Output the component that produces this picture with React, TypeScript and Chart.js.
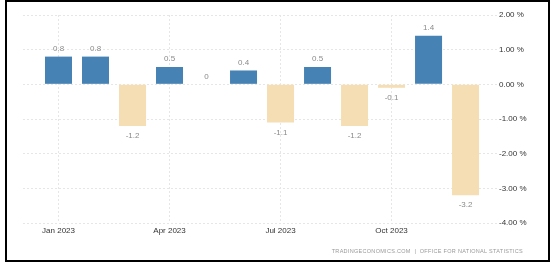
import React, { useEffect, useRef } from "react";
import { Chart, registerables } from "chart.js";

Chart.register(...registerables);

const months = [
  "Jan 2023", "Feb 2023", "Mar 2023", "Apr 2023", "May 2023", "Jun 2023",
  "Jul 2023", "Aug 2023", "Sep 2023", "Oct 2023", "Nov 2023", "Dec 2023",
];
const values = [0.8, 0.8, -1.2, 0.5, 0, 0.4, -1.1, 0.5, -1.2, -0.1, 1.4, -3.2];
const xTickIndices = [0, 3, 6, 9];
const yTicks = [2, 1, 0, -1, -2, -3, -4];
const sourceText = "TRADINGECONOMICS.COM  |  OFFICE FOR NATIONAL STATISTICS";

const POS = "#4682b4";
const NEG = "#f5deb3";
const FONT = "'Liberation Sans', Arial, sans-serif";

const labelPlugin = {
  id: "valueLabels",
  afterDatasetsDraw(chart: any) {
    const ctx = chart.ctx;
    const meta = chart.getDatasetMeta(0);
    ctx.save();
    ctx.font = `8px ${FONT}`;
    ctx.fillStyle = "#8a8a8a";
    ctx.textAlign = "center";
    ctx.textBaseline = "middle";
    meta.data.forEach((el: any, i: number) => {
      const v = values[i];
      const y = v >= 0 ? el.y - 8 : el.y + 10;
      ctx.fillText(String(v), el.x, y);
    });
    ctx.restore();
  },
};

export default function App() {
  const ref = useRef<HTMLCanvasElement>(null);
  useEffect(() => {
    document.body.style.margin = "0";
    const chart = new Chart(ref.current as HTMLCanvasElement, {
      type: "bar",
      data: {
        datasets: [
          {
            data: values.map((v, i) => ({ x: i, y: v })) as any,
            backgroundColor: values.map((v) => (v >= 0 ? POS : NEG)),
            borderWidth: 0,
            barPercentage: 0.73,
            categoryPercentage: 1,
          },
        ],
      },
      options: {
        animation: false,
        responsive: false,
        events: [],
        layout: { padding: { left: 23, top: 15, right: 0, bottom: 0 } },
        plugins: { legend: { display: false }, tooltip: { enabled: false } },
        scales: {
          x: {
            type: "linear",
            offset: false,
            min: -0.96,
            max: 11.85,
            afterBuildTicks: (scale: any) => {
              scale.ticks = xTickIndices.map((v) => ({ value: v }));
            },
            afterFit: (scale: any) => {
              scale.height = 41;
            },
            ticks: {
              autoSkip: false,
              maxRotation: 0,
              padding: 3,
              color: "#333",
              font: { family: FONT, size: 8 },
              callback: (v: any) => months[Number(v)] ?? "",
            },
            grid: {
              color: "#e6e6e6",
              drawTicks: false,
              offset: false,
              lineWidth: 1,
            },
            border: { display: false, dash: [2, 2] },
          },
          y: {
            position: "right",
            min: -4,
            max: 2,
            afterBuildTicks: (scale: any) => {
              scale.ticks = yTicks.map((v) => ({ value: v }));
            },
            afterFit: (scale: any) => {
              scale.width = 54;
            },
            ticks: {
              padding: 2,
              color: "#333",
              font: { family: FONT, size: 8 },
              callback: (v: any) => `${Number(v).toFixed(2)} %`,
            },
            grid: {
              color: "#e6e6e6",
              drawTicks: false,
              lineWidth: 1,
            },
            border: { display: false, dash: [2, 2] },
          },
        },
      } as any,
      plugins: [labelPlugin],
    });
    return () => chart.destroy();
  }, []);

  return (
    <div style={{ position: "fixed", left: 0, top: 0, width: 551, height: 264, background: "#fff" }}>
      <canvas ref={ref} width={551} height={264} style={{ position: "absolute", left: 0, top: 0 }} />
      <div
        style={{
          position: "absolute",
          right: 28,
          top: 248,
          fontFamily: FONT,
          fontSize: 5.5,
          color: "#999",
          letterSpacing: 0.3,
          whiteSpace: "pre",
        }}
      >
        {sourceText}
      </div>
      <div
        style={{
          position: "absolute",
          left: 5,
          top: 0,
          width: 545,
          height: 262,
          boxSizing: "border-box",
          border: "2px solid #000",
          pointerEvents: "none",
        }}
      />
    </div>
  );
}
